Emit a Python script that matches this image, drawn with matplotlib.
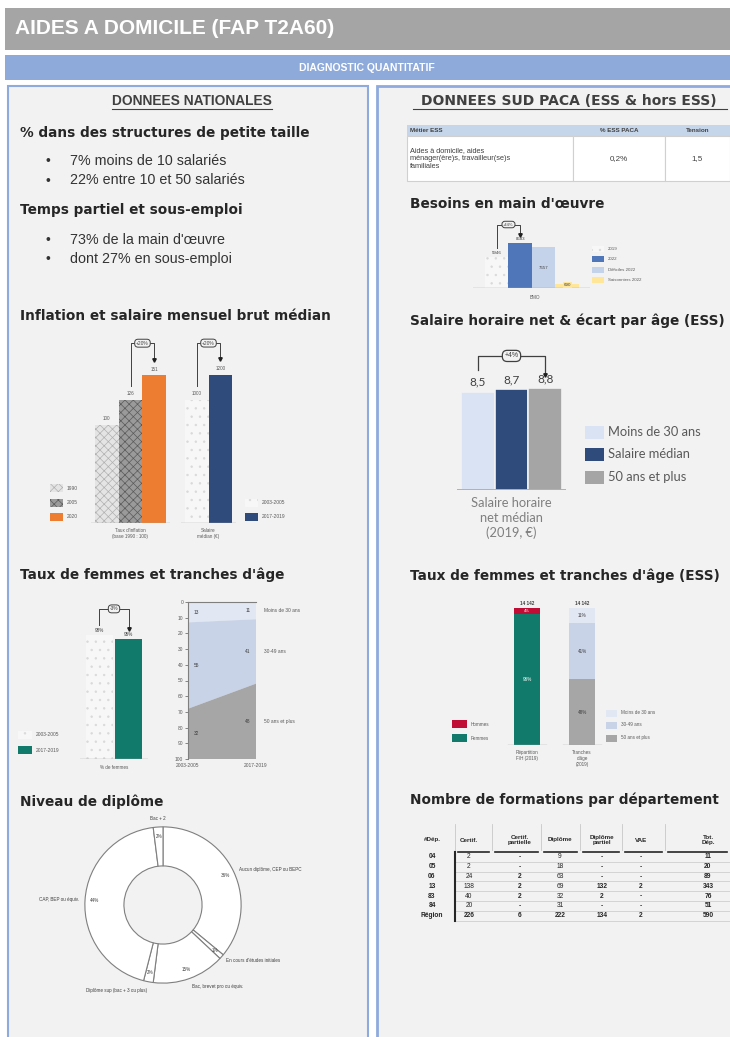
import numpy as np
import matplotlib.pyplot as plt
from matplotlib.patches import Rectangle

plt.rcParams['font.family'] = ['Liberation Sans', 'DejaVu Sans']
plt.rcParams['hatch.linewidth'] = 0.5

# ---- data ----
struct_lines = ["7% moins de 10 salariés", "22% entre 10 et 50 salariés"]
temps_lines = ["73% de la main d'œuvre", "dont 27% en sous-emploi"]

infl_years = ["1990", "2005", "2020"]
infl_values = [100, 126, 151]
infl_change = "+20%"
sal_periods = ["2003-2005", "2017-2019"]
sal_values = [1000, 1200]
sal_change = "+20%"

fem_periods = ["2003-2005", "2017-2019"]
fem_values = [98, 95]
fem_change = "-3%"

age_groups = ["Moins de 30 ans", "30-49 ans", "50 ans et plus"]
age_2003 = [13, 55, 32]
age_2017 = [11, 41, 48]

dipl_labels = ["Aucun diplôme, CEP ou BEPC", "En cours d'études initiales",
               "Bac, brevet pro ou équiv.", "Diplôme sup (bac + 3 ou plus)",
               "CAP, BEP ou équiv.", "Bac + 2"]
dipl_values = [36, 1, 15, 2, 44, 2]

metier_header = ["Métier ESS", "% ESS PACA", "Tension"]
metier_row = ["Aides à domicile, aides\nménager(ère)s, travailleur(se)s\nfamiliales", "0,2%", "1,5"]

bmo_labels = ["2019", "2022", "Difficiles 2022", "Saisonniers 2022"]
bmo_values = [5946, 8583, 7657, 690]
bmo_change = "+44%"

shor_labels = ["Moins de 30 ans", "Salaire médian", "50 ans et plus"]
shor_values = [8.5, 8.7, 8.8]
shor_change = "+4%"

ess_total = "14 142"
ess_sex = ["Hommes", "Femmes"]
ess_sex_values = [4, 96]
ess_age_values = [11, 41, 48]

form_cols = ["#Dép.", "Certif.", "Certif.\npartielle", "Diplôme", "Diplôme\npartiel", "VAE", "Tot.\nDép."]
form_deps = ["04", "05", "06", "13", "83", "84", "Région"]
form_certif = [2, 2, 24, 138, 40, 20, 226]
form_certif_part = [0, 0, 2, 2, 2, 0, 6]
form_diplome = [9, 18, 63, 69, 32, 31, 222]
form_diplome_part = [0, 0, 0, 132, 2, 0, 134]
form_vae = [0, 0, 0, 2, 0, 0, 2]
form_total = [11, 20, 89, 343, 76, 51, 590]

W, H = 730, 1037
fig = plt.figure(figsize=(W / 100, H / 100), dpi=100)
fig.patch.set_facecolor('white')
bg = fig.add_axes([0, 0, 1, 1])
bg.set_xlim(0, W)
bg.set_ylim(H, 0)
bg.axis('off')

DARK = '#262626'
GRID = '#7f7f7f'
DOTS = dict(fc='#f7f7f7', ec='#d9d9d9', hatch='..', lw=0)


def axes_px(x0, y0, x1, y1):
    ax = fig.add_axes([x0 / W, 1 - y1 / H, (x1 - x0) / W, (y1 - y0) / H])
    ax.set_facecolor('none')
    for s in ax.spines.values():
        s.set_visible(False)
    ax.set_xticks([])
    ax.set_yticks([])
    return ax


def bracket(ax, x0, y0, x1, y1, ytop, txt, fs=3.5, lw=0.7):
    ax.plot([x0, x0, x1, x1], [y0, ytop, ytop, y1], color='#404040', lw=lw, clip_on=False)
    ax.plot([x1], [y1], marker='v', ms=2.5, color='#202020', clip_on=False)
    ax.text((x0 + x1) / 2, ytop, txt, ha='center', va='center', fontsize=fs, color='#404040',
            bbox=dict(boxstyle='round,pad=0.3,rounding_size=0.7', fc='#f2f2f2', ec='#404040', lw=lw))


def legend_px(x, ys, styles, labels, w=13, h=7, fs=3.5, color='#595959', family=None):
    for y, st, lab in zip(ys, styles, labels):
        bg.add_patch(Rectangle((x, y - h / 2), w, h, **st))
        bg.text(x + w + 4, y, lab, ha='left', va='center', fontsize=fs, color=color, family=family)


# ---- frame ----
bg.add_patch(Rectangle((5, 8), 725, 42, fc='#a5a5a5', ec='none'))
bg.text(15, 29, "AIDES A DOMICILE (FAP T2A60)", color='white', fontsize=15, fontweight='bold', va='center')
bg.add_patch(Rectangle((5, 55), 725, 25, fc='#8eaadb', ec='none'))
bg.text(367, 68, "DIAGNOSTIC QUANTITATIF", color='white', fontsize=7.5, fontweight='bold', ha='center', va='center')
bg.add_patch(Rectangle((8, 86), 360, 960, fc='#f2f2f2', ec='#8faadc', lw=1.5))
bg.add_patch(Rectangle((377, 86), 360, 960, fc='#f2f2f2', ec='#8faadc', lw=2))


def heading(x, y, s, size=9.8):
    bg.text(x, y, s, fontsize=size, fontweight='bold', color=DARK, va='center', family='DejaVu Sans')


bg.text(192, 101, "DONNEES NATIONALES", fontsize=9.9, fontweight='bold', color='#404040', ha='center', va='center')
bg.plot([112, 272], [108.5, 108.5], color='#404040', lw=0.8)
heading(20, 133, "% dans des structures de petite taille")
for i, s in enumerate(struct_lines):
    bg.text(45, 161 + 19.5 * i, "•", fontsize=10, color='#333333', va='center')
    bg.text(70, 161 + 19.5 * i, s, fontsize=10.3, color='#333333', va='center')
heading(20, 210, "Temps partiel et sous-emploi")
for i, s in enumerate(temps_lines):
    bg.text(45, 240 + 19.5 * i, "•", fontsize=10, color='#333333', va='center')
    bg.text(70, 240 + 19.5 * i, s, fontsize=10.3, color='#333333', va='center')
heading(20, 316, "Inflation et salaire mensuel brut médian")
heading(20, 575, "Taux de femmes et tranches d'âge")
heading(20, 802, "Niveau de diplôme")

bg.text(569, 101, "DONNEES SUD PACA (ESS & hors ESS)", fontsize=10, fontweight='bold', color='#404040',
        ha='center', va='center', family='DejaVu Sans')
bg.plot([413, 727], [108.5, 108.5], color='#404040', lw=0.8)
heading(410, 204, "Besoins en main d'œuvre")
heading(410, 321, "Salaire horaire net & écart par âge (ESS)")
heading(410, 576, "Taux de femmes et tranches d'âge (ESS)")
heading(410, 800, "Nombre de formations par département")

# ---- inflation / salaire ----
infl_styles = [dict(fc='#e4e4e4', ec='#b0b0b0', hatch='xxxx', lw=0),
               dict(fc='#9a9a9a', ec='#5a5a5a', hatch='xxxx', lw=0),
               dict(fc='#ed7d31', ec='#ed7d31', lw=0)]
ax = axes_px(91, 330, 170, 523)
ax.set_xlim(-0.65, 2.65)
ax.set_ylim(0, 197.5)
for i, (v, st) in enumerate(zip(infl_values, infl_styles)):
    ax.bar(i, v, width=1, color=st['fc'], edgecolor=st['ec'], hatch=st.get('hatch'), linewidth=0)
    ax.text(i, v + 4, str(v), ha='center', va='bottom', fontsize=3.3, color='#595959')
ax.axhline(0, color='#a6a6a6', lw=1)
bracket(ax, 1, infl_values[1] + 14, 2, infl_values[2] + 16, 184, infl_change)

sal_styles = [DOTS, dict(fc='#2f4b7c', ec='#2f4b7c', lw=0)]
ax = axes_px(181, 330, 236, 523)
ax.set_xlim(-0.65, 1.65)
ax.set_ylim(0, 1564)
for i, (v, st) in enumerate(zip(sal_values, sal_styles)):
    ax.bar(i, v, width=1, color=st['fc'], edgecolor=st['ec'], hatch=st.get('hatch'), linewidth=0)
    ax.text(i, v + 30, str(v), ha='center', va='bottom', fontsize=3.3, color='#595959')
ax.axhline(0, color='#a6a6a6', lw=1)
bracket(ax, 0, sal_values[0] + 110, 1, sal_values[1] + 130, 1458, sal_change)

legend_px(50, [488, 503, 517], infl_styles, infl_years, w=13, h=8)
legend_px(245, [503, 517], sal_styles, sal_periods, w=13, h=8)
bg.text(130, 528, "Taux d'inflation\n(base 1990 : 100)", ha='center', va='top', fontsize=3.3, color='#595959')
bg.text(208, 528, "Salaire\nmédian (€)", ha='center', va='top', fontsize=3.3, color='#595959')

# ---- taux de femmes national ----
fem_styles = [DOTS, dict(fc='#127a6a', ec='#127a6a', lw=0)]
ax = axes_px(80, 595, 148, 759)
ax.set_xlim(-0.67, 1.67)
ax.set_ylim(0, 130)
for i, (v, st) in enumerate(zip(fem_values, fem_styles)):
    ax.bar(i, v, width=0.95, color=st['fc'], edgecolor=st['ec'], hatch=st.get('hatch'), linewidth=0)
    ax.text(i, v + 2, f"{v}%", ha='center', va='bottom', fontsize=3.3, color='#404040')
ax.axhline(0, color='#a6a6a6', lw=1)
bracket(ax, 0, fem_values[0] + 8, 1, fem_values[1] + 8, 119, fem_change)
legend_px(18, [735, 750], fem_styles, fem_periods, w=14, h=8)
bg.text(114, 765, "% de femmes", ha='center', va='top', fontsize=3.3, color='#595959')

# stacked age area
ax = axes_px(188, 602, 256, 759)
age_colors = ['#e1e7f3', '#c8d3e8', '#a6a6a6']
ax.stackplot([0, 1], np.array([age_2003, age_2017]).T, colors=age_colors)
ax.set_xlim(0, 1)
ax.set_ylim(100, 0)
ax.spines['left'].set_visible(True)
ax.spines['top'].set_visible(True)
ax.spines['left'].set_color(GRID)
ax.spines['top'].set_color(GRID)
ax.set_yticks(range(0, 101, 10))
ax.tick_params(axis='y', labelsize=3.5, length=2, width=0.5, colors='#595959', pad=1.5)
ax.set_xticks([0, 1])
ax.set_xticklabels(fem_periods)
ax.tick_params(axis='x', labelsize=3.5, length=0, colors='#595959', pad=3)
mid_a = np.cumsum(age_2003) - np.array(age_2003) / 2
mid_b = np.cumsum(age_2017) - np.array(age_2017) / 2
for va, vb, ma, mb, lab in zip(age_2003, age_2017, mid_a, mid_b, age_groups):
    ax.text(0.12, ma, str(va), ha='center', va='center', fontsize=3.5, color='#404040')
    ax.text(0.88, mb, str(vb), ha='center', va='center', fontsize=3.5, color='#404040')
    ax.text(1.12, mb, lab, ha='left', va='center', fontsize=3.5, color='#595959', clip_on=False)

# ---- niveau de diplome ----
ax = axes_px(63, 805, 263, 1005)
wedges, _ = ax.pie(dipl_values, startangle=90, counterclock=False, colors=['white'] * len(dipl_values),
                   wedgeprops=dict(width=0.5, edgecolor='#7f7f7f', linewidth=0.8))
ax.set_xlim(-1.28, 1.28)
ax.set_ylim(-1.28, 1.28)
ax.set_aspect('equal')
for w, v, lab in zip(wedges, dipl_values, dipl_labels):
    a = np.deg2rad((w.theta1 + w.theta2) / 2)
    c, s = np.cos(a), np.sin(a)
    ax.text(0.88 * c, 0.88 * s, f"{v}%", ha='center', va='center', fontsize=3.3, color='#404040')
    ha = 'left' if c > 0.1 else ('right' if c < -0.1 else 'center')
    va = 'bottom' if s > 0.9 else ('top' if s < -0.9 else 'center')
    ax.text(1.08 * c, 1.08 * s, lab, ha=ha, va=va, fontsize=3.3, color='#404040', clip_on=False)

# ---- metier table ----
mx = [407, 573, 665, 730]
bg.add_patch(Rectangle((mx[0], 125), mx[-1] - mx[0], 11, fc='#c5d5ea', ec='none'))
for j in range(3):
    bg.add_patch(Rectangle((mx[j], 136), mx[j + 1] - mx[j], 45, fc='white', ec='#d0d0d0', lw=0.8))
    xh = mx[j] + 3 if j == 0 else (mx[j] + mx[j + 1]) / 2
    bg.text(xh, 130.5, metier_header[j], fontsize=4.5, fontweight='bold', color='#404040',
            ha='left' if j == 0 else 'center', va='center')
    bg.text(xh, 158.5, metier_row[j], fontsize=5.3 if j == 0 else 5.8, color='#404040',
            ha='left' if j == 0 else 'center', va='center', linespacing=1.2)

# ---- besoins en main d'oeuvre ----
bmo_styles = [DOTS,
              dict(fc='#4f76b8', ec='#4f76b8', lw=0),
              dict(fc='#c5d3ea', ec='#c5d3ea', lw=0),
              dict(fc='#ffe699', ec='#ffe699', lw=0)]
ax = axes_px(473, 215, 590, 288)
ax.set_xlim(-1.01, 3.97)
ax.set_ylim(0, 13800)
for i, (v, st) in enumerate(zip(bmo_values, bmo_styles)):
    ax.bar(i, v, width=1, color=st['fc'], edgecolor=st['ec'], hatch=st.get('hatch'), linewidth=0)
ax.axhline(0, color='#a6a6a6', lw=1)
ax.text(0, bmo_values[0] + 250, str(bmo_values[0]), ha='center', va='bottom', fontsize=3.2, color='#404040')
ax.text(1, bmo_values[1] + 250, str(bmo_values[1]), ha='center', va='bottom', fontsize=3.2, color='#404040')
ax.text(2, bmo_values[2] / 2, str(bmo_values[2]), ha='center', va='center', fontsize=3.2, color='#404040')
ax.text(3, bmo_values[3] / 2 + 250, str(bmo_values[3]), ha='center', va='center', fontsize=3.2, color='#404040',
        bbox=dict(boxstyle='square,pad=0.15', fc='#ffe699', ec='none'))
bracket(ax, 0, bmo_values[0] + 1600, 1, bmo_values[1] + 1500, 12000, bmo_change, fs=3)
bg.text(535, 295, "BMO", ha='center', va='top', fontsize=3.3, color='#595959')
legend_px(592, [249, 259, 270, 280], bmo_styles, bmo_labels, w=12, h=6, fs=3.2)

# ---- salaire horaire ----
shor_colors = ['#dae3f3', '#2f4b7c', '#a5a5a5']
ax = axes_px(457, 335, 566, 490)
ax.set_xlim(-0.62, 2.62)
ax.set_ylim(0, 13.41)
ax.bar(range(3), shor_values, width=1, color=shor_colors, edgecolor='#f2f2f2', linewidth=1.2)
ax.axhline(0, color='#a6a6a6', lw=1.2)
for i, v in enumerate(shor_values):
    ax.text(i, v + 0.35, f"{v:.1f}".replace('.', ','), ha='center', va='bottom', fontsize=8.5,
            color='#404040', family='Lato')
bracket(ax, 0, 10.4, 2, 9.95, 11.6, shor_change, fs=5, lw=0.9)
legend_px(585, [432, 454, 477], [dict(fc=c, ec='none') for c in shor_colors], shor_labels,
          w=19, h=13, fs=9.3, color='#595959', family='Lato')
bg.text(511, 497, "Salaire horaire\nnet médian\n(2019, €)", ha='center', va='top', fontsize=9.3,
        color='#7f7f7f', family='Lato', linespacing=1.25)

# ---- taux de femmes ESS ----
sex_colors = ['#c00d35', '#127a6a']
ess_age_colors = ['#e1e7f3', '#c8d3e8', '#a6a6a6']
ax = axes_px(500, 595, 612, 745)
ax.set_xlim(-0.49, 1.545)
ax.set_ylim(0, 109.7)
ax.bar(0, ess_sex_values[1], width=0.46, color=sex_colors[1])
ax.bar(0, ess_sex_values[0], width=0.46, bottom=ess_sex_values[1], color=sex_colors[0])
ax.text(0, ess_sex_values[1] / 2, f"{ess_sex_values[1]}%", ha='center', va='center', fontsize=3.3, color='white')
ax.text(0, ess_sex_values[1] + ess_sex_values[0] / 2, f"{ess_sex_values[0]}%", ha='center', va='center',
        fontsize=3, color='white')
bottom = 0
for v, c in zip(ess_age_values[::-1], ess_age_colors[::-1]):
    ax.bar(1, v, width=0.46, bottom=bottom, color=c)
    ax.text(1, bottom + v / 2, f"{v}%", ha='center', va='center', fontsize=3.3, color='#404040')
    bottom += v
for i in range(2):
    ax.plot([i - 0.35, i + 0.35], [0, 0], color='#a6a6a6', lw=1)
    ax.text(i, 101.5, ess_total, ha='center', va='bottom', fontsize=3.3, fontweight='bold', color='#404040')
legend_px(452, [724, 738], [dict(fc=c, ec='none') for c in sex_colors], ess_sex, w=15, h=8, fs=3.3)
legend_px(606, [713, 725, 738], [dict(fc=c, ec='none') for c in ess_age_colors], age_groups, w=11, h=7, fs=3.3)
bg.text(527, 750, "Répartition\nF/H (2019)", ha='center', va='top', fontsize=3.3, color='#595959')
bg.text(582, 750, "Tranches\nd'âge\n(2019)", ha='center', va='top', fontsize=3.3, color='#595959')

# ---- formations table ----
cx = [432, 469, 520, 560, 602, 641, 708]
edges = [410, 455, 492, 541, 580, 622, 665, 730]
hy = 852
rh = 9.8


def cell(v):
    return "-" if v == 0 else str(v)


for j, name in enumerate(form_cols):
    bg.text(cx[j], 840, name, ha='center', va='center', fontsize=4.5, fontweight='bold', color=DARK, linespacing=1.1)
    if j > 0:
        bg.plot([edges[j] + 3, edges[j + 1] - 3], [hy, hy], color=DARK, lw=1.2)
        bg.plot([edges[j], edges[j]], [824, hy - 2], color='#c8c8c8', lw=0.6)
cols = [form_certif, form_certif_part, form_diplome, form_diplome_part, form_vae, form_total]
for i, dep in enumerate(form_deps):
    y = hy + rh * (i + 0.5)
    bg.text(cx[0], y, dep, ha='center', va='center', fontsize=4.8, fontweight='bold', color=DARK)
    for j, col in enumerate(cols):
        bg.text(cx[j + 1], y, cell(col[i]), ha='center', va='center', fontsize=4.8,
                fontweight='bold' if j in (1, 3, 4, 5) or i == len(form_deps) - 1 else 'normal', color=DARK)
    bg.plot([edges[1], edges[-1]], [hy + rh * (i + 1)] * 2, color='#cfcfcf', lw=0.6)
bg.plot([edges[1], edges[1]], [hy, hy + rh * len(form_deps)], color=DARK, lw=1.5)

fig.savefig('out.png', dpi=100)
